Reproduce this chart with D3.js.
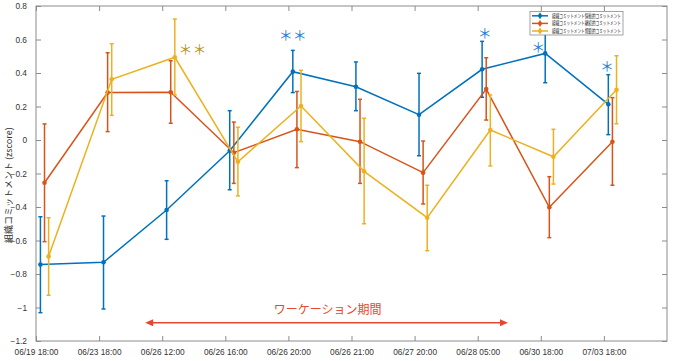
<!DOCTYPE html>
<html><head><meta charset="utf-8">
<script src="https://cdn.jsdelivr.net/npm/d3@7"></script>
<style>
html,body{margin:0;padding:0;background:#fff;}
svg{display:block;}
text{font-family:"Liberation Sans",Arial,sans-serif;}
.jp{font-family:"Noto Sans CJK JP","Noto Sans",sans-serif;}
</style></head>
<body>
<svg id="chart" width="675" height="361"></svg>
<script>
const categories = ["06/19 18:00","06/23 18:00","06/26 12:00","06/26 16:00","06/26 20:00","06/26 21:00","06/27 20:00","06/28 05:00","06/30 18:00","07/03 18:00"];
const seriesNames = ["組織コミットメント情動的コミットメント","組織コミットメント継続的コミットメント","組織コミットメント規範的コミットメント"];

const blueMean  = [-0.744,-0.730,-0.418,-0.064,0.408,0.318,0.151,0.422,0.517,0.213];
const blueUpper = [-0.458,-0.454,-0.243,0.175,0.535,0.466,0.398,0.589,0.692,0.390];
const blueLower = [-1.031,-1.009,-0.593,-0.297,0.283,0.175,-0.094,0.255,0.342,0.032];

const redMean  = [-0.255,0.283,0.285,-0.076,0.064,-0.010,-0.195,0.304,-0.402,-0.010];
const redUpper = [0.096,0.521,0.473,0.107,0.290,0.243,-0.006,0.491,-0.219,0.253];
const redLower = [-0.607,0.050,0.100,-0.259,-0.165,-0.259,-0.382,0.119,-0.583,-0.270];

const yellowMean  = [-0.695,0.362,0.494,-0.130,0.203,-0.187,-0.464,0.060,-0.100,0.300];
const yellowUpper = [-0.464,0.575,0.722,0.076,0.416,0.130,-0.270,0.269,0.064,0.503];
const yellowLower = [-0.927,0.147,0.269,-0.334,-0.010,-0.500,-0.661,-0.155,-0.263,0.097];

const yTicks = [-1.2,-1,-0.8,-0.6,-0.4,-0.2,0,0.2,0.4,0.6,0.8];
const periodLabel = "ワーケーション期間";
const yLabel = "組織コミットメント (zscore)";

const colors = ["#0072BD","#D95319","#EDB120"];
const offsets = [0.07,0.135,0.2];

const svg = d3.select("#chart");
const L = 36, R = 667, T = 6, B = 341;
const x = d3.scaleLinear().domain([0,10]).range([L,R]);
const y = d3.scaleLinear().domain([-1.2,0.8]).range([B,T]);

const axisColor = "#8c8c8c";
svg.append("rect").attr("x",L).attr("y",T).attr("width",R-L).attr("height",B-T)
  .attr("fill","none").attr("stroke",axisColor).attr("stroke-width",1);

const xAxis = d3.axisBottom(x).tickValues(d3.range(categories.length))
  .tickFormat(i => categories[i]).tickSizeInner(-5).tickSizeOuter(0).tickPadding(8);
const gx = svg.append("g").attr("transform",`translate(0,${B})`).call(xAxis);
gx.select(".domain").remove();
gx.selectAll("line").attr("stroke",axisColor);
gx.selectAll("text").attr("font-size",8.3).attr("fill","#333");

const xTop = d3.axisTop(x).tickValues(d3.range(categories.length)).tickFormat("").tickSizeInner(-5).tickSizeOuter(0);
const gxt = svg.append("g").attr("transform",`translate(0,${T})`).call(xTop);
gxt.select(".domain").remove(); gxt.selectAll("line").attr("stroke",axisColor);

const yAxis = d3.axisLeft(y).tickValues(yTicks).tickFormat(d3.format("~g")).tickSizeInner(-5).tickSizeOuter(0).tickPadding(9);
const gy = svg.append("g").attr("transform",`translate(${L},0)`).call(yAxis);
gy.select(".domain").remove();
gy.selectAll("line").attr("stroke",axisColor);
gy.selectAll("text").attr("font-size",8.3).attr("fill","#333");

const yRight = d3.axisRight(y).tickValues(yTicks).tickFormat("").tickSizeInner(-5).tickSizeOuter(0);
const gyr = svg.append("g").attr("transform",`translate(${R},0)`).call(yRight);
gyr.select(".domain").remove(); gyr.selectAll("line").attr("stroke",axisColor);

svg.append("text").attr("class","jp")
  .attr("transform",`translate(12,${y(-0.27)}) rotate(-90)`)
  .attr("text-anchor","middle").attr("font-size",9).attr("fill","#333").text(yLabel);

const series = [
  {mean:blueMean, up:blueUpper, lo:blueLower},
  {mean:redMean, up:redUpper, lo:redLower},
  {mean:yellowMean, up:yellowUpper, lo:yellowLower}
];
series.forEach((s,k) => {
  const g = svg.append("g");
  const c = colors[k];
  const xi = i => x(i + offsets[k]);
  const line = d3.line().x((d,i)=>xi(i)).y(d=>y(d));
  g.append("path").datum(s.mean).attr("d",line).attr("fill","none").attr("stroke",c).attr("stroke-width",1.5);
  s.mean.forEach((m,i) => {
    g.append("line").attr("x1",xi(i)).attr("x2",xi(i)).attr("y1",y(s.lo[i])).attr("y2",y(s.up[i]))
      .attr("stroke",c).attr("stroke-width",1.5);
    [s.lo[i], s.up[i]].forEach(v => {
      g.append("line").attr("x1",xi(i)-2).attr("x2",xi(i)+2).attr("y1",y(v)).attr("y2",y(v))
        .attr("stroke",c).attr("stroke-width",1.5);
    });
    g.append("circle").attr("cx",xi(i)).attr("cy",y(m)).attr("r",2.3).attr("fill",c);
  });
});

const marks = [
  {t:"＊＊", i:2.48, v:0.55, c:"#b5952a"},
  {t:"＊＊", i:4.07, v:0.635, c:"#2a7fd0"},
  {t:"＊", i:7.11, v:0.645, c:"#2a7fd0"},
  {t:"＊", i:7.96, v:0.56, c:"#2a7fd0"},
  {t:"＊", i:9.05, v:0.445, c:"#2a7fd0"}
];
marks.forEach(m => {
  svg.append("text").attr("class","jp").attr("x",x(m.i)).attr("y",y(m.v))
    .attr("text-anchor","middle").attr("dominant-baseline","central")
    .attr("font-size",14).attr("fill",m.c).text(m.t);
});

const lx = 530, ly = 11.5, lw = 93, lh = 23.5;
svg.append("rect").attr("x",lx).attr("y",ly).attr("width",lw).attr("height",lh)
  .attr("fill","#fff").attr("stroke","#8c8c8c").attr("stroke-width",0.8);
seriesNames.forEach((n,k) => {
  const yy = ly + 4.3 + k*7.6;
  const c = colors[k];
  svg.append("line").attr("x1",lx+2).attr("x2",lx+18).attr("y1",yy).attr("y2",yy).attr("stroke",c).attr("stroke-width",1.5);
  svg.append("line").attr("x1",lx+10).attr("x2",lx+10).attr("y1",yy-3).attr("y2",yy+3).attr("stroke",c).attr("stroke-width",1.5);
  svg.append("circle").attr("cx",lx+10).attr("cy",yy).attr("r",2).attr("fill",c);
  svg.append("text").attr("class","jp").attr("x",lx+22).attr("y",yy).attr("dominant-baseline","central")
    .attr("font-size",5.5).attr("fill","#222").attr("textLength",69).attr("lengthAdjust","spacingAndGlyphs").text(n);
});

const arrowColor = "#e8472f";
const ay = 322.7, ax1 = x(1.73), ax2 = x(7.48);
svg.append("line").attr("x1",ax1+6).attr("x2",ax2-6).attr("y1",ay).attr("y2",ay).attr("stroke",arrowColor).attr("stroke-width",1.6);
svg.append("path").attr("d",`M${ax1},${ay} L${ax1+8},${ay-3.5} L${ax1+8},${ay+3.5} Z`).attr("fill",arrowColor);
svg.append("path").attr("d",`M${ax2},${ay} L${ax2-8},${ay-3.5} L${ax2-8},${ay+3.5} Z`).attr("fill",arrowColor);
svg.append("text").attr("class","jp").attr("x",(ax1+ax2)/2+1).attr("y",313.5).attr("text-anchor","middle")
  .attr("font-size",12).attr("fill",arrowColor).text(periodLabel);
</script>
</body></html>
